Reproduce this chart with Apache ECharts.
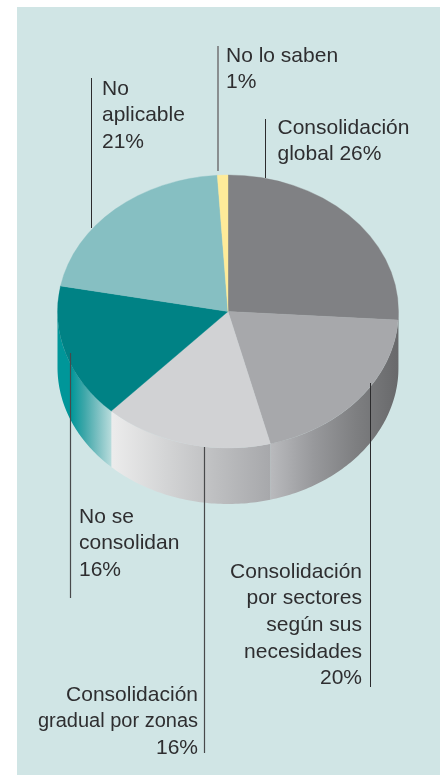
<!DOCTYPE html>
<html>
<head>
<meta charset="utf-8">
<style>html,body{margin:0;padding:0;background:#fff}#chart{width:448px;height:775px}</style>
<script src="https://cdn.jsdelivr.net/npm/echarts@6/dist/echarts.min.js"></script>
</head>
<body>
<div id="chart"></div>
<script>
// Survey shares, clockwise from twelve o'clock
const categories = ['Consolidación global', 'Consolidación por sectores según sus necesidades', 'Consolidación gradual por zonas', 'No se consolidan', 'No aplicable', 'No lo saben'];
const values = [26, 20, 16, 16, 21, 1];

// Face colours and rim shading (rim stops run left to right)
const faceColors = ['#808184', '#a7a8ab', '#d1d2d4', '#008285', '#86bfc2', '#feeb99'];
const rimStops = [
  ['#6d6e70', '#6d6e70'],
  ['#b9babd', '#98999c', '#7e7f81', '#68696b'],
  ['#ececec', '#d4d5d6', '#bdbec0', '#a7a8ab'],
  ['#009699', '#009699', '#3ea7a9', '#7cc0c2', '#b8dcdc'],
  ['#86bfc2', '#86bfc2'],
  ['#feeb99', '#feeb99']
];

// Disc geometry
const cx = 228, cy = 311.5, rx = 170.5, ry = 136.5, depth = 56;

// Text blocks: [anchor x, alignment, first-line centre y, lines]
const lineStep = 26.6;
const textBlocks = [
  [226, 'left', 56, ['No lo saben', '1%']],
  [102, 'left', 89, ['No', 'aplicable', '21%']],
  [277.5, 'left', 128, ['Consolidación', 'global 26%']],
  [79, 'left', 517, ['No se', 'consolidan', '16%']],
  [362, 'right', 572, ['Consolidación', 'por sectores', 'según sus', 'necesidades', '20%']],
  [198, 'right', 695, ['Consolidación', 'gradual por zonas', '16%']]
];
const narrowLine = 'gradual por zonas';

// Leader lines: [x, y from, y to, colour, width]
const leaders = [
  [218, 46, 171, '#77787a', 1.6],
  [91.5, 78, 228, '#2b2b2d', 1],
  [265.5, 119, 178, '#2b2b2d', 1],
  [70.5, 353, 598, '#48494b', 1.2],
  [370.5, 383, 687, '#2b2b2d', 1],
  [204.5, 447, 753, '#48494b', 1.2]
];

const total = values.reduce((a, b) => a + b, 0);
const starts = [];
values.reduce((sum, v, i) => { starts[i] = sum; return sum + v; }, 0);

function pointAt(deg, drop) {
  const t = deg * Math.PI / 180;
  return [cx + rx * Math.sin(t), cy - ry * Math.cos(t) + drop];
}

function renderSlice(params, api) {
  const i = params.dataIndex;
  const from = starts[i] / total * 360;
  const to = from + api.value(0) / total * 360;
  const children = [];

  // The rim is only visible on the front half of the disc
  const a = Math.max(from, 90), b = Math.min(to, 270);
  if (b > a) {
    const upper = [], lower = [];
    const steps = Math.max(2, Math.ceil(b - a));
    for (let k = 0; k <= steps; k++) {
      const deg = a + (b - a) * k / steps;
      upper.push(pointAt(deg, 0));
      lower.unshift(pointAt(deg, depth));
    }
    const stops = rimStops[i];
    children.push({
      type: 'polygon',
      shape: { points: upper.concat(lower) },
      style: {
        fill: {
          type: 'linear', x: 0, y: 0, x2: 1, y2: 0,
          colorStops: stops.map((color, n) => ({ offset: n / (stops.length - 1), color }))
        }
      }
    });
  }

  children.push({
    type: 'sector',
    x: cx, y: cy, scaleX: 1, scaleY: ry / rx,
    shape: {
      cx: 0, cy: 0, r0: 0, r: rx,
      startAngle: (from - 90) * Math.PI / 180,
      endAngle: (to - 90) * Math.PI / 180,
      clockwise: true
    },
    style: { fill: faceColors[i], stroke: faceColors[i], lineWidth: 0.4 }
  });
  return { type: 'group', children };
}

const graphics = [{
  type: 'rect', z: -1, silent: true,
  shape: { x: 17, y: 7, width: 423, height: 768 },
  style: { fill: '#d0e5e5' }
}];

leaders.forEach(([x, y1, y2, stroke, lineWidth]) => {
  graphics.push({
    type: 'line', z: 20, silent: true,
    shape: { x1: x, y1, x2: x, y2 },
    style: { stroke, lineWidth }
  });
});

textBlocks.forEach(([x, align, top, lines]) => {
  lines.forEach((line, n) => {
    graphics.push({
      type: 'text', z: 20, silent: true, x, y: top + n * lineStep,
      style: {
        text: line, fill: '#2e2e30', align, verticalAlign: 'middle',
        font: (line === narrowLine ? 20 : 21) + 'px "Liberation Sans", Arial, sans-serif'
      }
    });
  });
});

const chart = echarts.init(document.getElementById('chart'), null, { renderer: 'canvas' });
chart.setOption({
  animation: false,
  backgroundColor: '#ffffff',
  graphic: graphics,
  series: [{
    type: 'custom',
    coordinateSystem: 'none',
    silent: true,
    renderItem: renderSlice,
    data: values.map((v, i) => ({ name: categories[i], value: [v] }))
  }]
});
</script>
</body>
</html>
